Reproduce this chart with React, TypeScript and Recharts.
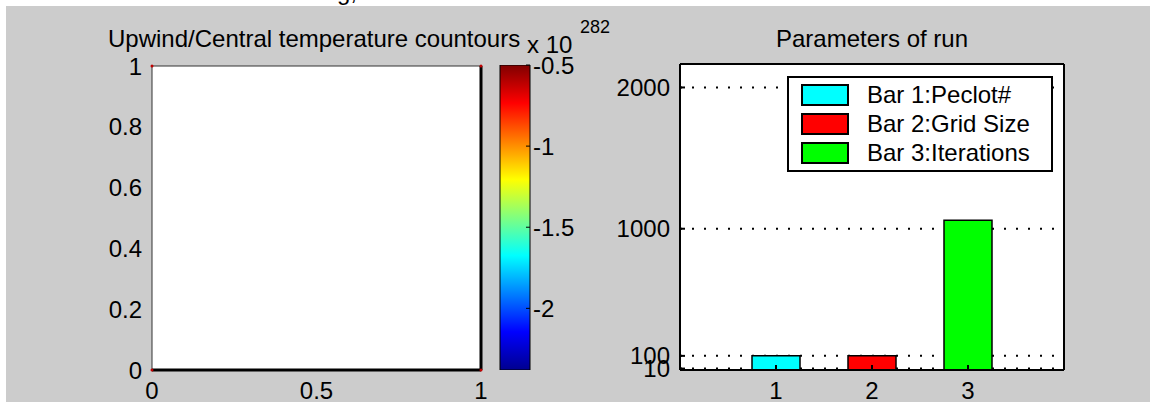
import React from "react"
import {
  ScatterChart,
  Scatter,
  BarChart,
  Bar,
  Cell,
  XAxis,
  YAxis,
  CartesianGrid,
  Legend,
} from "recharts"

const FONT = '"Liberation Sans", Arial, Helvetica, sans-serif'

// contour panel (field is flat, only the corner points show up)
const contourXTicks = [0, 0.5, 1]
const contourYTicks = [0, 0.2, 0.4, 0.6, 0.8, 1]
const contourCorners = [
  { x: 0, y: 0 },
  { x: 1, y: 0 },
  { x: 0, y: 1 },
  { x: 1, y: 1 },
]

// colorbar, values are x 10^282
const cbarRange = [-2.38, -0.5]
const cbarTicks = [-2, -1.5, -1, -0.5]
const jetStops = [
  { offset: "0%", color: "#800000" },
  { offset: "12.5%", color: "#ff0000" },
  { offset: "37.5%", color: "#ffff00" },
  { offset: "62.5%", color: "#00ffff" },
  { offset: "87.5%", color: "#0000ff" },
  { offset: "100%", color: "#00008f" },
]

// parameters of run
const runBars = [1, 2, 3]
const runValues = [100, 100, 1060]
const runColors = ["#00ffff", "#ff0000", "#00ff00"]
const runLabels = ["Bar 1:Peclot#", "Bar 2:Grid Size", "Bar 3:Iterations"]
const runYTicks = [10, 100, 1000, 2000]
const runYMax = 2166

const cbarData = [{ k: "cbar", span: cbarRange }]
const runData = runBars.map((bar, i) => ({ bar, value: runValues[i] }))

const tickFont = { fill: "#000", fontSize: 24, fontFamily: FONT }

const CornerDot = (props: any) => (
  <circle cx={props.cx} cy={props.cy} r={1.5} fill="#c00000" />
)

function RunLegend() {
  return (
    <div
      style={{
        width: 266,
        height: 96,
        boxSizing: "border-box",
        background: "#fff",
        border: "2px solid #000",
        padding: "2px 0 0 12px",
        fontFamily: FONT,
        fontSize: 24,
        color: "#000",
      }}
    >
      {runLabels.map((label, i) => (
        <div key={label} style={{ display: "flex", alignItems: "center", height: 29 }}>
          <span
            style={{
              width: 48,
              height: 22,
              boxSizing: "border-box",
              background: runColors[i],
              border: "2px solid #000",
              marginRight: 18,
              flex: "none",
            }}
          />
          <span style={{ lineHeight: "24px", whiteSpace: "nowrap" }}>{label}</span>
        </div>
      ))}
    </div>
  )
}

const textStyle: React.CSSProperties = {
  position: "absolute",
  fontFamily: FONT,
  color: "#000",
  whiteSpace: "nowrap",
}

export default function App() {
  return (
    <div
      style={{
        position: "absolute",
        left: 0,
        top: 0,
        width: 1150,
        height: 402,
        background: "#fff",
        overflow: "hidden",
      }}
    >
      <span style={{ ...textStyle, left: 337, top: -20, fontSize: 24, lineHeight: "24px" }}>g,</span>
      <div
        style={{
          position: "absolute",
          left: 6,
          top: 6,
          width: 1144,
          height: 396,
          background: "#cccccc",
        }}
      />

      {/* contour plot */}
      <div style={{ position: "absolute", left: 0, top: 0 }}>
        <ScatterChart width={500} height={402} margin={{ top: 65, right: 18, bottom: 2, left: 92 }}>
          <CartesianGrid fill="#fff" horizontal={false} vertical={false} />
          <XAxis
            type="number"
            dataKey="x"
            domain={[0, 1]}
            ticks={contourXTicks}
            interval={0}
            height={30}
            tickSize={0}
            tickMargin={12}
            tickLine={false}
            axisLine={{ stroke: "#000", strokeWidth: 3 }}
            tick={tickFont}
          />
          <XAxis
            xAxisId="top"
            orientation="top"
            type="number"
            domain={[0, 1]}
            height={1}
            tick={false}
            tickLine={false}
            axisLine={{ stroke: "#333", strokeWidth: 1 }}
          />
          <YAxis
            type="number"
            dataKey="y"
            domain={[0, 1]}
            ticks={contourYTicks}
            interval={0}
            width={60}
            tickSize={0}
            tickMargin={10}
            tickLine={false}
            axisLine={{ stroke: "#333", strokeWidth: 1 }}
            tick={tickFont}
          />
          <YAxis
            yAxisId="right"
            orientation="right"
            type="number"
            domain={[0, 1]}
            width={1}
            tick={false}
            tickLine={false}
            axisLine={{ stroke: "#000", strokeWidth: 3 }}
          />
          <Scatter data={contourCorners} shape={CornerDot} isAnimationActive={false} />
        </ScatterChart>
      </div>

      {/* colorbar */}
      <div style={{ position: "absolute", left: 470, top: 0 }}>
        <BarChart
          width={150}
          height={402}
          data={cbarData}
          margin={{ top: 65, right: 30, bottom: 32, left: 29 }}
          barCategoryGap={0}
        >
          <defs>
            <linearGradient id="jet" x1="0" y1="0" x2="0" y2="1">
              {jetStops.map((s) => (
                <stop key={s.offset} offset={s.offset} stopColor={s.color} />
              ))}
            </linearGradient>
          </defs>
          <XAxis dataKey="k" hide />
          <YAxis
            type="number"
            domain={cbarRange}
            ticks={cbarTicks}
            interval={0}
            allowDataOverflow
            width={1}
            tick={false}
            tickSize={-4}
            axisLine={false}
            tickLine={{ stroke: "#000" }}
          />
          <YAxis
            yAxisId="r"
            orientation="right"
            type="number"
            domain={cbarRange}
            ticks={cbarTicks}
            interval={0}
            allowDataOverflow
            width={60}
            tickSize={-4}
            tickMargin={7}
            axisLine={false}
            tickLine={{ stroke: "#000" }}
            tick={{ ...tickFont, textAnchor: "start" }}
          />
          <Bar dataKey="span" fill="url(#jet)" stroke="#000" strokeWidth={1} isAnimationActive={false} />
        </BarChart>
      </div>

      {/* parameters bar chart */}
      <div style={{ position: "absolute", left: 560, top: 0 }}>
        <BarChart width={590} height={402} data={runData} margin={{ top: 63, right: 85, bottom: 2, left: 40 }}>
          <CartesianGrid
            fill="#fff"
            vertical={false}
            stroke="#000"
            strokeWidth={2}
            strokeDasharray="2 10"
          />
          <XAxis
            type="number"
            dataKey="bar"
            domain={[0, 4]}
            ticks={runBars}
            interval={0}
            height={30}
            tickSize={-5}
            tickMargin={17}
            axisLine={{ stroke: "#000", strokeWidth: 2 }}
            tickLine={{ stroke: "#000", strokeWidth: 2 }}
            tick={tickFont}
          />
          <XAxis
            xAxisId="t"
            orientation="top"
            type="number"
            domain={[0, 4]}
            ticks={runBars}
            interval={0}
            height={1}
            tick={false}
            tickSize={-5}
            axisLine={{ stroke: "#000", strokeWidth: 2 }}
            tickLine={{ stroke: "#000", strokeWidth: 2 }}
          />
          <YAxis
            type="number"
            domain={[0, runYMax]}
            ticks={runYTicks}
            interval={0}
            width={80}
            tickSize={-5}
            tickMargin={15}
            axisLine={{ stroke: "#000", strokeWidth: 2 }}
            tickLine={{ stroke: "#000", strokeWidth: 2 }}
            tick={tickFont}
          />
          <YAxis
            yAxisId="r"
            orientation="right"
            type="number"
            domain={[0, runYMax]}
            ticks={runYTicks}
            interval={0}
            width={1}
            tick={false}
            tickSize={-5}
            axisLine={{ stroke: "#000", strokeWidth: 2 }}
            tickLine={{ stroke: "#000", strokeWidth: 2 }}
          />
          <Legend
            layout="horizontal"
            verticalAlign="middle"
            align="center"
            wrapperStyle={{ left: 227, top: 76, width: 266, height: 96 }}
            content={RunLegend}
          />
          <Bar dataKey="value" barSize={48} stroke="#000" strokeWidth={1.5} isAnimationActive={false}>
            {runData.map((d, i) => (
              <Cell key={d.bar} fill={runColors[i]} />
            ))}
          </Bar>
        </BarChart>
      </div>

      {/* titles and colorbar exponent */}
      <span style={{ ...textStyle, left: 108, top: 27, fontSize: 24, lineHeight: "24px" }}>
        Upwind/Central temperature countours
      </span>
      <span style={{ ...textStyle, left: 527, top: 33, fontSize: 24, lineHeight: "24px" }}>x 10</span>
      <span style={{ ...textStyle, left: 580, top: 18, fontSize: 18, lineHeight: "18px" }}>282</span>
      <span
        style={{
          ...textStyle,
          left: 672,
          width: 400,
          textAlign: "center",
          top: 27,
          fontSize: 24,
          lineHeight: "24px",
        }}
      >
        Parameters of run
      </span>
    </div>
  )
}
